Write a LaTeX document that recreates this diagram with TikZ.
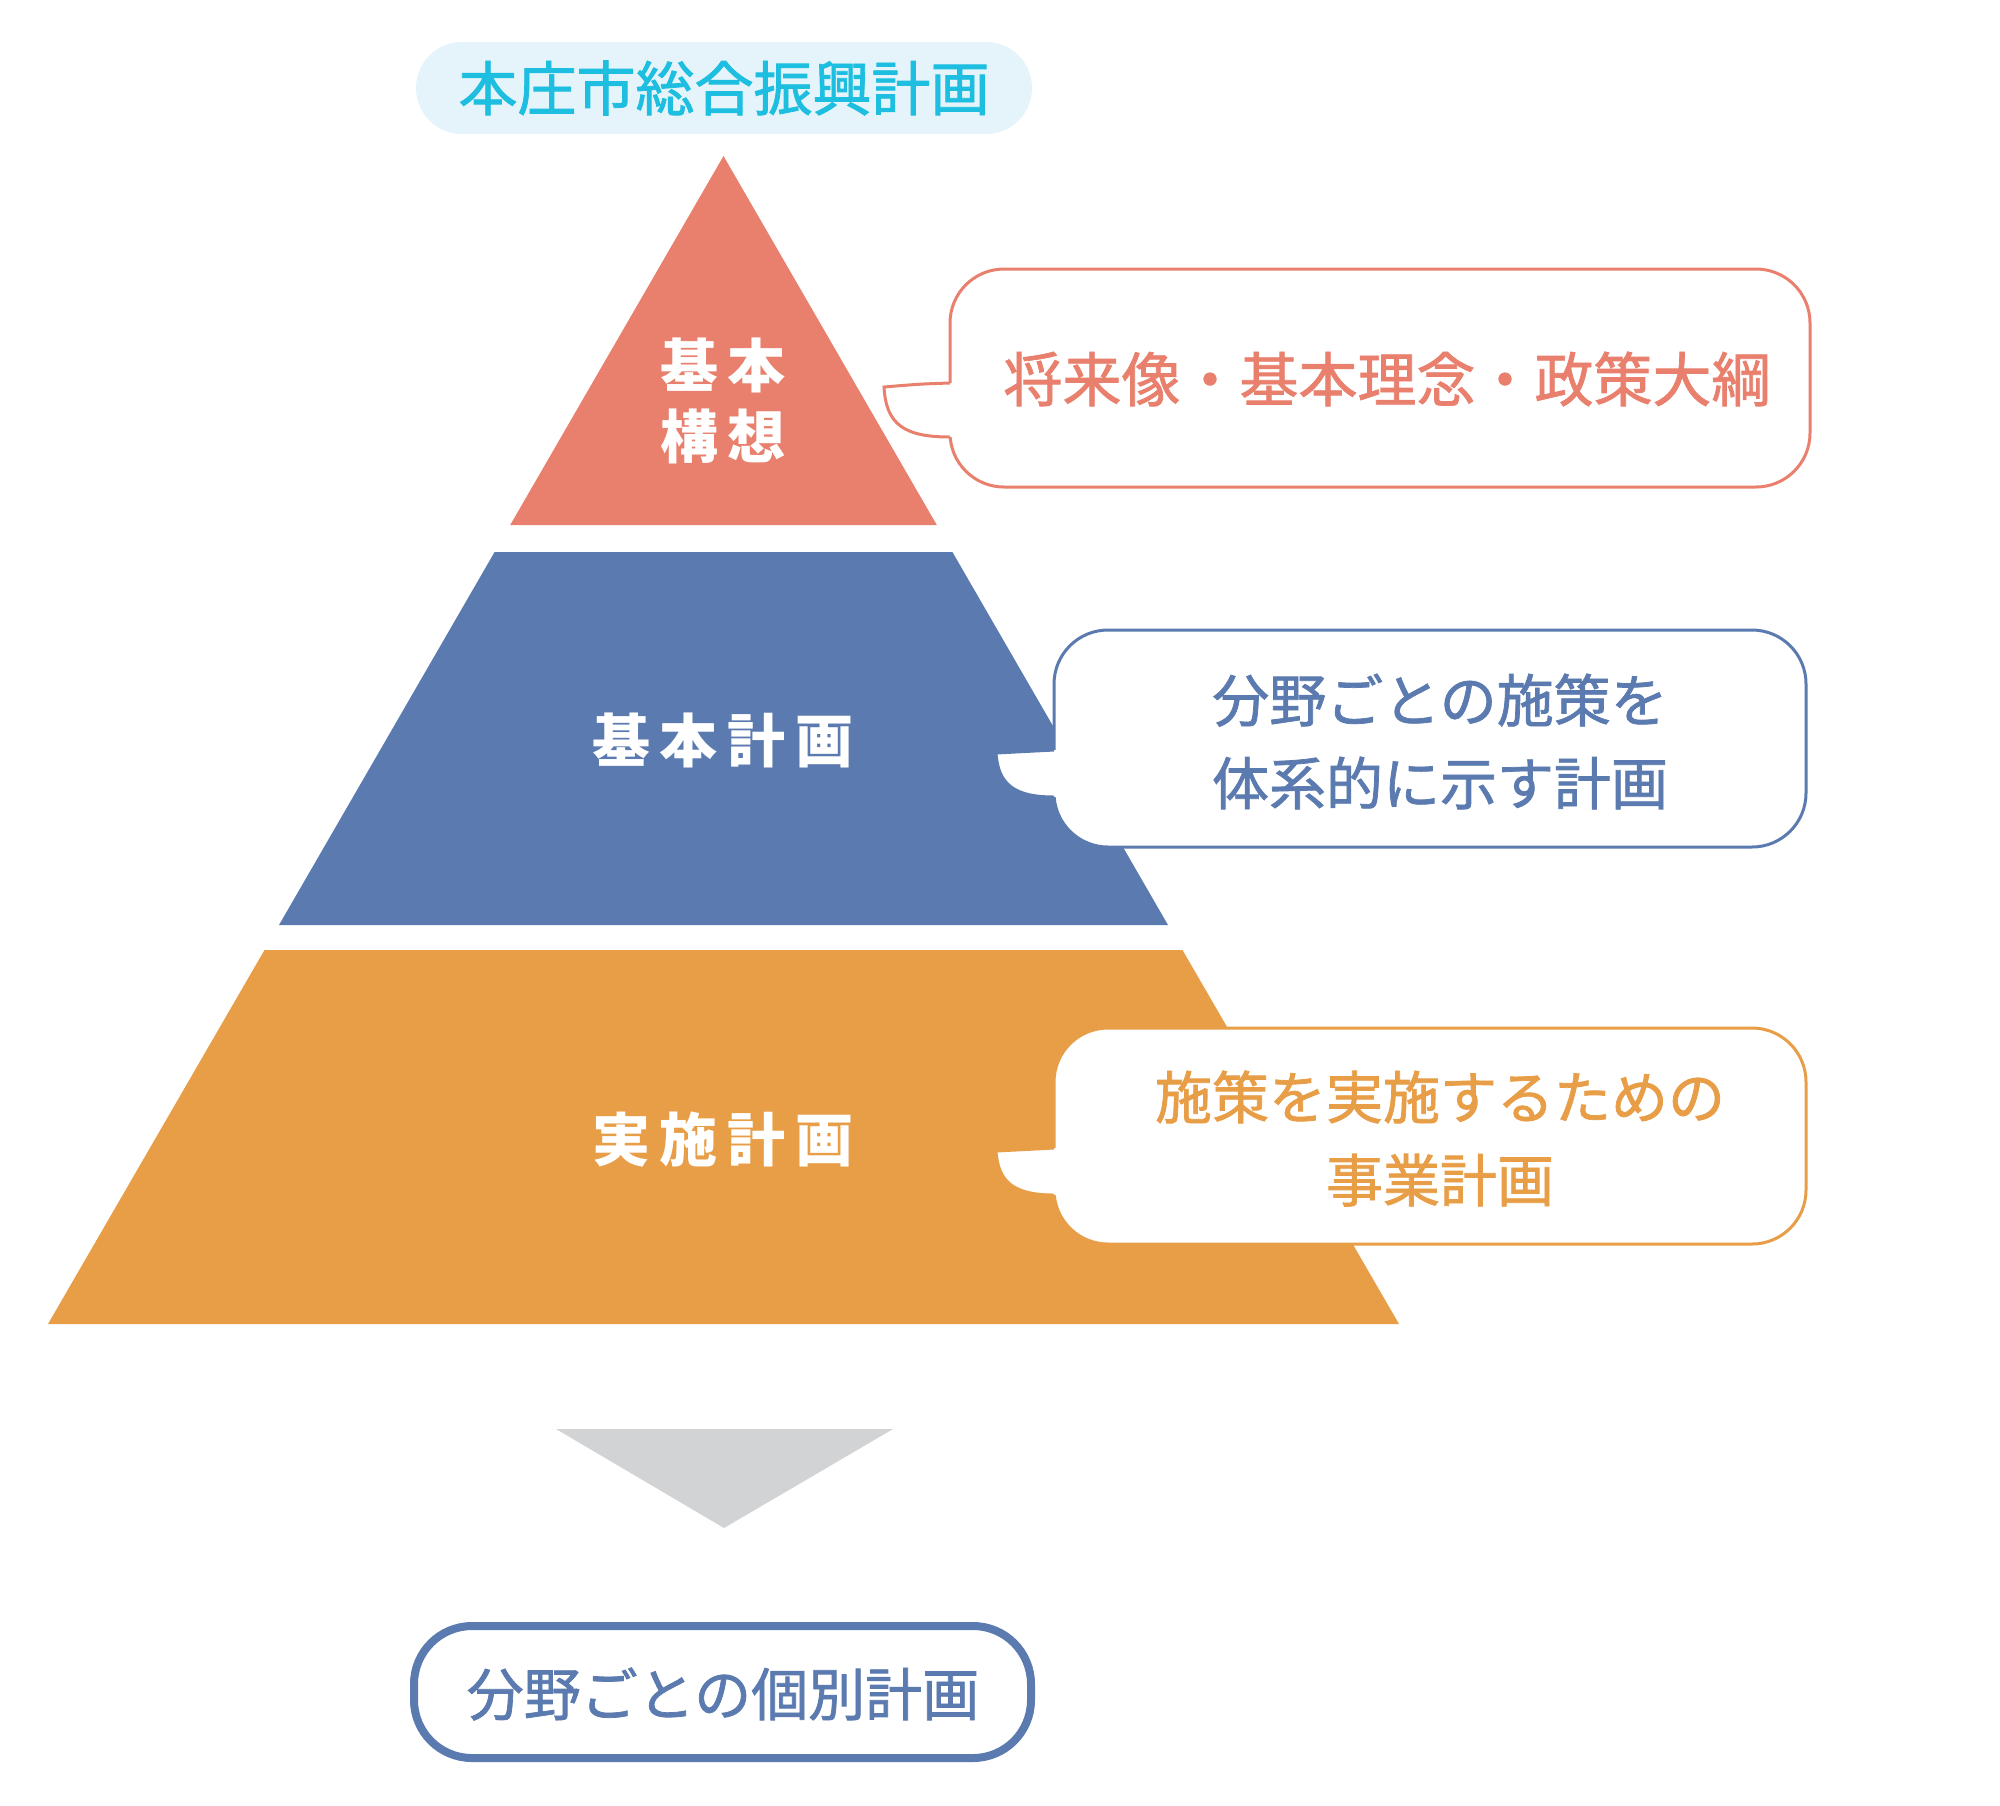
\documentclass[tikz,border=0pt]{standalone}
\usepackage{fontspec}
\setmainfont{Noto Sans CJK JP}
\newfontfamily\medfont{Noto Sans CJK JP}[FakeBold=1.3]
\definecolor{csalmon}{HTML}{E9806E}
\definecolor{cblue}{HTML}{5B7AAF}
\definecolor{corange}{HTML}{E89D47}
\definecolor{ccyan}{HTML}{1DBEDF}
\definecolor{clight}{HTML}{E4F4FA}
\definecolor{cgray}{HTML}{D1D3D4}
\tikzset{
  pyrlabel/.style={text=white,font=\bfseries\fontsize{29}{35.5}\selectfont,align=center,inner sep=0pt},
  calltext/.style={font=\medfont\fontsize{28.5}{41.5}\selectfont,align=center,inner sep=0pt},
  callbox/.style={line width=1.5pt,fill=white,rounded corners=27pt},
}
\newcommand{\gp}{\hspace{5pt}}
\begin{document}
\begin{tikzpicture}[x=0.5pt,y=-0.5pt]
\useasboundingbox (0,0) rectangle (2000,1805);
% title
\fill[clight,rounded corners=23pt] (416,42) rectangle (1032,134);
\node[text=ccyan,font=\medfont\fontsize{29.5}{35}\selectfont,inner sep=0pt] (title) at (724,88) {本庄市総合振興計画};
% pyramid
\fill[csalmon] (723.5,156) -- (936.8,525) -- (510.2,525) -- cycle;
\fill[cblue] (494.6,552) -- (952.4,552) -- (1168,925) -- (279,925) -- cycle;
\fill[corange] (264.5,950) -- (1182.5,950) -- (1399,1324) -- (48,1324) -- cycle;
\node[pyrlabel] (l1) at (723,401) {基\gp 本\\構\gp 想};
\node[pyrlabel] (l2) at (723,740) {基\gp 本\gp 計\gp 画};
\node[pyrlabel] (l3) at (723,1139) {実\gp 施\gp 計\gp 画};
% callout 1
\draw[callbox,draw=csalmon] (950,269) rectangle (1810,487);
\fill[white] (953,383) .. controls (920,384) .. (884,387) .. controls (886,425) and (905,437) .. (953,437) -- cycle;
\draw[csalmon,line width=1.5pt] (950,383) .. controls (920,384) .. (884,387) .. controls (886,425) and (905,437) .. (950,437);
\node[calltext,text=csalmon,font=\medfont\fontsize{29.5}{35}\selectfont] (c1) at (1387,379) {将来像・基本理念・政策大綱};
% callout 2
\draw[callbox,draw=cblue] (1054,630) rectangle (1806,847);
\fill[white] (1057,750) .. controls (1025,752) .. (996,753) .. controls (998,785) and (1015,797) .. (1057,797) -- cycle;
\draw[cblue,line width=1.5pt] (1054,750) .. controls (1025,752) .. (996,753) .. controls (998,785) and (1015,797) .. (1054,797);
\node[calltext,text=cblue] (c2) at (1440,741.5) {分野ごとの施策を\\体系的に示す計画};
% callout 3
\draw[callbox,draw=corange] (1054,1028) rectangle (1806,1244);
\fill[white] (1057,1148) .. controls (1025,1150) .. (996,1151) .. controls (998,1183) and (1015,1195) .. (1057,1195) -- cycle;
\draw[corange,line width=1.5pt] (1054,1148) .. controls (1025,1150) .. (996,1151) .. controls (998,1183) and (1015,1195) .. (1054,1195);
\node[calltext,text=corange] (c3) at (1440,1138.5) {施策を実施するための\\事業計画};
% arrow
\fill[cgray] (556,1429) -- (893,1429) -- (724,1528) -- cycle;
% bottom box
\draw[cblue,line width=4pt,fill=white,rounded corners=29pt] (414,1626) rectangle (1031,1758);
\node[calltext,text=cblue] (b) at (723,1694) {分野ごとの個別計画};
\end{tikzpicture}
\end{document}
